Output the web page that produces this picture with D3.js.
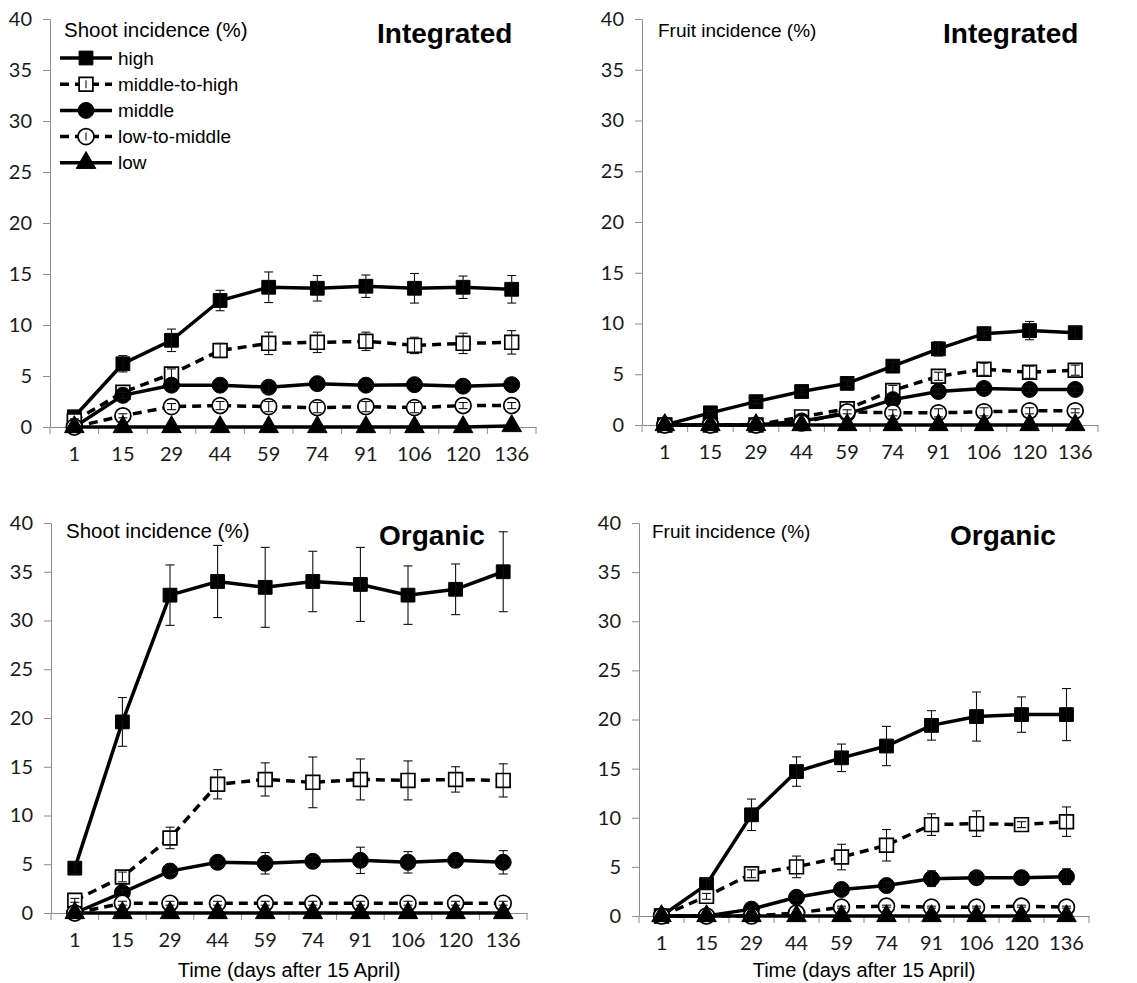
<!DOCTYPE html>
<html>
<head>
<meta charset="utf-8">
<script src="https://cdn.jsdelivr.net/npm/d3@7"></script>
<style>
  body { margin: 0; background: #fff; }
  .tick text { font-family: Lato, "Open Sans", sans-serif; font-size: 20px; fill: #1a1a1a; }
</style>
</head>
<body>
<svg id="chart" width="1137" height="983"></svg>
<script>
// days after 15 April (category axis)
var days = [1, 15, 29, 44, 59, 74, 91, 106, 120, 136];
var yTicks = [0, 5, 10, 15, 20, 25, 30, 35, 40];
var seriesNames = ["high", "middle-to-high", "middle", "low-to-middle", "low"];

// Integrated - shoot incidence (%)
var intShootHigh     = [1.0, 6.2, 8.5, 12.4, 13.7, 13.6, 13.8, 13.6, 13.7, 13.5];
var intShootHighErr  = [0.3, 0.8, 1.1, 1.0, 1.5, 1.25, 1.1, 1.45, 1.1, 1.35];
var intShootMidHigh    = [0.6, 3.4, 5.2, 7.5, 8.2, 8.3, 8.4, 8.0, 8.2, 8.3];
var intShootMidHighErr = [0.2, 0.4, 0.5, 0.7, 1.1, 1.0, 0.9, 0.8, 1.0, 1.15];
var intShootMid     = [0, 3.1, 4.1, 4.1, 3.9, 4.25, 4.1, 4.15, 4.0, 4.15];
var intShootMidErr  = [0, 0.3, 0.4, 0.3, 0.6, 0.4, 0.3, 0.3, 0.4, 0.4];
var intShootLowMid    = [0, 1.1, 2.0, 2.1, 2.0, 1.9, 2.0, 1.9, 2.1, 2.1];
var intShootLowMidErr = [0, 0.2, 0.3, 0.4, 0.5, 0.5, 0.5, 0.5, 0.3, 0.3];
var intShootLow     = [0, 0, 0, 0, 0, 0, 0, 0, 0, 0.1];
var intShootLowErr  = [0, 0, 0, 0, 0, 0, 0, 0, 0, 0];

// Integrated - fruit incidence (%)
var intFruitHigh     = [0, 1.2, 2.3, 3.3, 4.1, 5.8, 7.5, 9.0, 9.3, 9.1];
var intFruitHighErr  = [0, 0.2, 0.2, 0.3, 0.3, 0.4, 0.7, 0.3, 0.9, 0.6];
var intFruitMidHigh    = [0, 0, 0, 0.8, 1.6, 3.4, 4.8, 5.5, 5.2, 5.4];
var intFruitMidHighErr = [0, 0, 0, 0.2, 0.3, 0.5, 0.4, 0.6, 0.6, 0.5];
var intFruitMid     = [0, 0, 0, 0.4, 1.1, 2.5, 3.3, 3.6, 3.5, 3.5];
var intFruitMidErr  = [0, 0, 0, 0.1, 0.2, 0.3, 0.3, 0.3, 0.3, 0.3];
var intFruitLowMid    = [0, 0, 0, 0.2, 1.3, 1.2, 1.2, 1.3, 1.4, 1.4];
var intFruitLowMidErr = [0, 0, 0, 0, 0.2, 0.3, 0.4, 0.4, 0.3, 0.2];
var intFruitLow     = [0, 0, 0, 0, 0, 0, 0, 0, 0, 0];
var intFruitLowErr  = [0, 0, 0, 0, 0, 0, 0, 0, 0, 0];

// Organic - shoot incidence (%)
var orgShootHigh     = [4.6, 19.6, 32.6, 34.0, 33.4, 34.0, 33.7, 32.6, 33.2, 35.0];
var orgShootHighErr  = [0.6, 2.5, 3.1, 3.7, 4.1, 3.1, 3.8, 3.0, 2.6, 4.1];
var orgShootMidHigh    = [1.3, 3.7, 7.7, 13.2, 13.7, 13.4, 13.7, 13.6, 13.7, 13.6];
var orgShootMidHighErr = [0.2, 0.5, 1.1, 1.5, 1.7, 2.6, 2.1, 2.0, 1.3, 1.7];
var orgShootMid     = [0, 2.1, 4.3, 5.2, 5.1, 5.3, 5.4, 5.2, 5.4, 5.2];
var orgShootMidErr  = [0, 0.3, 0.3, 0.4, 1.1, 0.5, 1.35, 1.1, 0.3, 1.2];
var orgShootLowMid    = [0, 1.0, 1.0, 1.0, 1.0, 1.0, 1.0, 1.0, 1.0, 1.0];
var orgShootLowMidErr = [0, 0.2, 0.2, 0.2, 0.2, 0.2, 0.2, 0.2, 0.2, 0.2];
var orgShootLow     = [0, 0, 0, 0, 0, 0, 0, 0, 0, 0];
var orgShootLowErr  = [0, 0, 0, 0, 0, 0, 0, 0, 0, 0];

// Organic - fruit incidence (%)
var orgFruitHigh     = [0, 3.2, 10.3, 14.7, 16.1, 17.3, 19.4, 20.3, 20.5, 20.5];
var orgFruitHighErr  = [0, 0.6, 1.6, 1.5, 1.4, 2.0, 1.5, 2.5, 1.8, 2.65];
var orgFruitMidHigh    = [0, 2.0, 4.3, 5.0, 6.0, 7.2, 9.3, 9.4, 9.3, 9.6];
var orgFruitMidHighErr = [0, 0.3, 0.4, 1.1, 1.3, 1.6, 1.1, 1.3, 0.3, 1.5];
var orgFruitMid     = [0, 0, 0.7, 1.9, 2.7, 3.1, 3.8, 3.9, 3.9, 4.0];
var orgFruitMidErr  = [0, 0, 0.2, 0.3, 0.3, 0.3, 0.8, 0.6, 0.3, 0.8];
var orgFruitLowMid    = [0, 0, 0, 0.3, 0.9, 1.0, 0.9, 0.9, 1.0, 0.9];
var orgFruitLowMidErr = [0, 0, 0, 0, 0.1, 0.1, 0.1, 0.1, 0.1, 0.1];
var orgFruitLow     = [0, 0, 0, 0, 0, 0, 0, 0, 0, 0];
var orgFruitLowErr  = [0, 0, 0, 0, 0, 0, 0, 0, 0, 0];

// marker / line style for each series, in seriesNames order
var markerType = ["square", "square", "circle", "circle", "triangle"];
var markerFilled = [true, false, true, false, true];
var lineDashed = [false, true, false, true, false];

var panels = [
  { sys: "Integrated", label: "Shoot incidence (%)", labelSize: 20.5, box: [50, 536, 19, 427],
    labelPos: [64, 37], sysPos: [377, 43], legend: true, xTitle: false,
    values: [intShootHigh, intShootMidHigh, intShootMid, intShootLowMid, intShootLow],
    errors: [intShootHighErr, intShootMidHighErr, intShootMidErr, intShootLowMidErr, intShootLowErr] },
  { sys: "Integrated", label: "Fruit incidence (%)", labelSize: 19, box: [642, 1098, 19, 425],
    labelPos: [658, 37], sysPos: [943, 43], legend: false, xTitle: false,
    values: [intFruitHigh, intFruitMidHigh, intFruitMid, intFruitLowMid, intFruitLow],
    errors: [intFruitHighErr, intFruitMidHighErr, intFruitMidErr, intFruitLowMidErr, intFruitLowErr] },
  { sys: "Organic", label: "Shoot incidence (%)", labelSize: 20.5, box: [51, 527, 523, 913],
    labelPos: [66, 538], sysPos: [379, 545], legend: false, xTitle: true,
    values: [orgShootHigh, orgShootMidHigh, orgShootMid, orgShootLowMid, orgShootLow],
    errors: [orgShootHighErr, orgShootMidHighErr, orgShootMidErr, orgShootLowMidErr, orgShootLowErr] },
  { sys: "Organic", label: "Fruit incidence (%)", labelSize: 19, box: [639, 1089, 523, 916],
    labelPos: [652, 538], sysPos: [950, 545], legend: false, xTitle: true,
    values: [orgFruitHigh, orgFruitMidHigh, orgFruitMid, orgFruitLowMid, orgFruitLow],
    errors: [orgFruitHighErr, orgFruitMidHighErr, orgFruitMidErr, orgFruitLowMidErr, orgFruitLowErr] }
];

var svg = d3.select("#chart");
var axisColor = "#8c8c8c";
var ink = "#000";

function markerPath(type) {
  if (type == "square") return d3.symbol().type(d3.symbolSquare).size(190)();
  if (type == "circle") return d3.symbol().type(d3.symbolCircle).size(200)();
  return d3.symbol().type(d3.symbolTriangle).size(165)();
}

function drawMarker(g, i, cx, cy) {
  g.append("path")
    .attr("d", markerPath(markerType[i]))
    .attr("transform", "translate(" + cx + "," + cy + ")")
    .attr("fill", markerFilled[i] ? ink : "#fff")
    .attr("stroke", ink)
    .attr("stroke-width", markerFilled[i] ? 1 : 1.7);
}

function drawPanel(p) {
  var x = d3.scaleBand().domain(days).range([p.box[0], p.box[1]]);
  var y = d3.scaleLinear().domain([0, 40]).range([p.box[3], p.box[2]]);
  var cx = function(d) { return x(d) + x.bandwidth() / 2; };
  var g = svg.append("g");

  // y axis
  var yAxis = g.append("g")
    .attr("transform", "translate(" + p.box[0] + ",0)")
    .call(d3.axisLeft(y).tickValues(yTicks).tickSize(7).tickSizeOuter(0).tickPadding(11));
  yAxis.select(".domain").attr("stroke", axisColor);
  yAxis.selectAll(".tick line").attr("stroke", axisColor);

  // x axis, labels centred in categories, ticks on category boundaries
  var xAxis = g.append("g")
    .attr("transform", "translate(0," + y(0) + ")")
    .call(d3.axisBottom(x).tickSize(0).tickSizeOuter(0).tickPadding(20));
  xAxis.select(".domain").attr("stroke", axisColor);
  var bounds = days.map(function(d) { return x(d); }).concat([x.range()[1]]);
  xAxis.selectAll(".btick").data(bounds).enter().append("line")
    .attr("x1", function(d) { return d; }).attr("x2", function(d) { return d; })
    .attr("y1", 0).attr("y2", 7)
    .attr("stroke", axisColor);

  // series
  var line = d3.line()
    .x(function(d) { return cx(d.day); })
    .y(function(d) { return y(d.v); });
  p.values.forEach(function(vals, i) {
    var pts = days.map(function(d, k) { return { day: d, v: vals[k], e: p.errors[i][k] }; });
    g.append("path").datum(pts)
      .attr("d", line)
      .attr("fill", "none")
      .attr("stroke", ink)
      .attr("stroke-width", 3.5)
      .attr("stroke-dasharray", lineDashed[i] ? "9,6" : null);
    pts.forEach(function(pt) { drawMarker(g, i, cx(pt.day), y(pt.v)); });
    var eb = g.append("g").attr("stroke", "#111").attr("stroke-width", 1.1);
    pts.filter(function(pt) { return pt.e > 0; }).forEach(function(pt) {
      var xx = cx(pt.day);
      eb.append("line").attr("x1", xx).attr("x2", xx).attr("y1", y(pt.v - pt.e)).attr("y2", y(pt.v + pt.e));
      eb.append("line").attr("x1", xx - 4.5).attr("x2", xx + 4.5).attr("y1", y(pt.v - pt.e)).attr("y2", y(pt.v - pt.e));
      eb.append("line").attr("x1", xx - 4.5).attr("x2", xx + 4.5).attr("y1", y(pt.v + pt.e)).attr("y2", y(pt.v + pt.e));
    });
  });

  // texts
  g.append("text")
    .attr("x", p.labelPos[0]).attr("y", p.labelPos[1])
    .attr("font-family", "Liberation Sans, Arial, sans-serif")
    .attr("font-size", p.labelSize)
    .text(p.label);
  g.append("text")
    .attr("x", p.sysPos[0]).attr("y", p.sysPos[1])
    .attr("font-family", "Liberation Sans, Arial, sans-serif")
    .attr("font-size", 28).attr("font-weight", "bold")
    .text(p.sys);
  if (p.xTitle) {
    g.append("text")
      .attr("x", (p.box[0] + p.box[1]) / 2).attr("y", 977)
      .attr("text-anchor", "middle")
      .attr("font-family", "Liberation Sans, Arial, sans-serif")
      .attr("font-size", 20)
      .text("Time (days after 15 April)");
  }

  if (p.legend) {
    var lg = g.append("g");
    seriesNames.forEach(function(name, i) {
      var ly = 58 + i * 26.2;
      lg.append("line").attr("x1", 60).attr("x2", 112).attr("y1", ly).attr("y2", ly)
        .attr("stroke", ink).attr("stroke-width", 3.5)
        .attr("stroke-dasharray", lineDashed[i] ? "9,6" : null);
      drawMarker(lg, i, 86, ly);
      if (!markerFilled[i]) {
        lg.append("line").attr("x1", 86).attr("x2", 86).attr("y1", ly - 4).attr("y2", ly + 4)
          .attr("stroke", "#111").attr("stroke-width", 1.1);
      }
      lg.append("text").attr("x", 118).attr("y", ly).attr("dy", "0.35em")
        .attr("font-family", "Liberation Sans, Arial, sans-serif")
        .attr("font-size", 19)
        .text(name);
    });
  }
}

panels.forEach(drawPanel);
</script>
</body>
</html>
